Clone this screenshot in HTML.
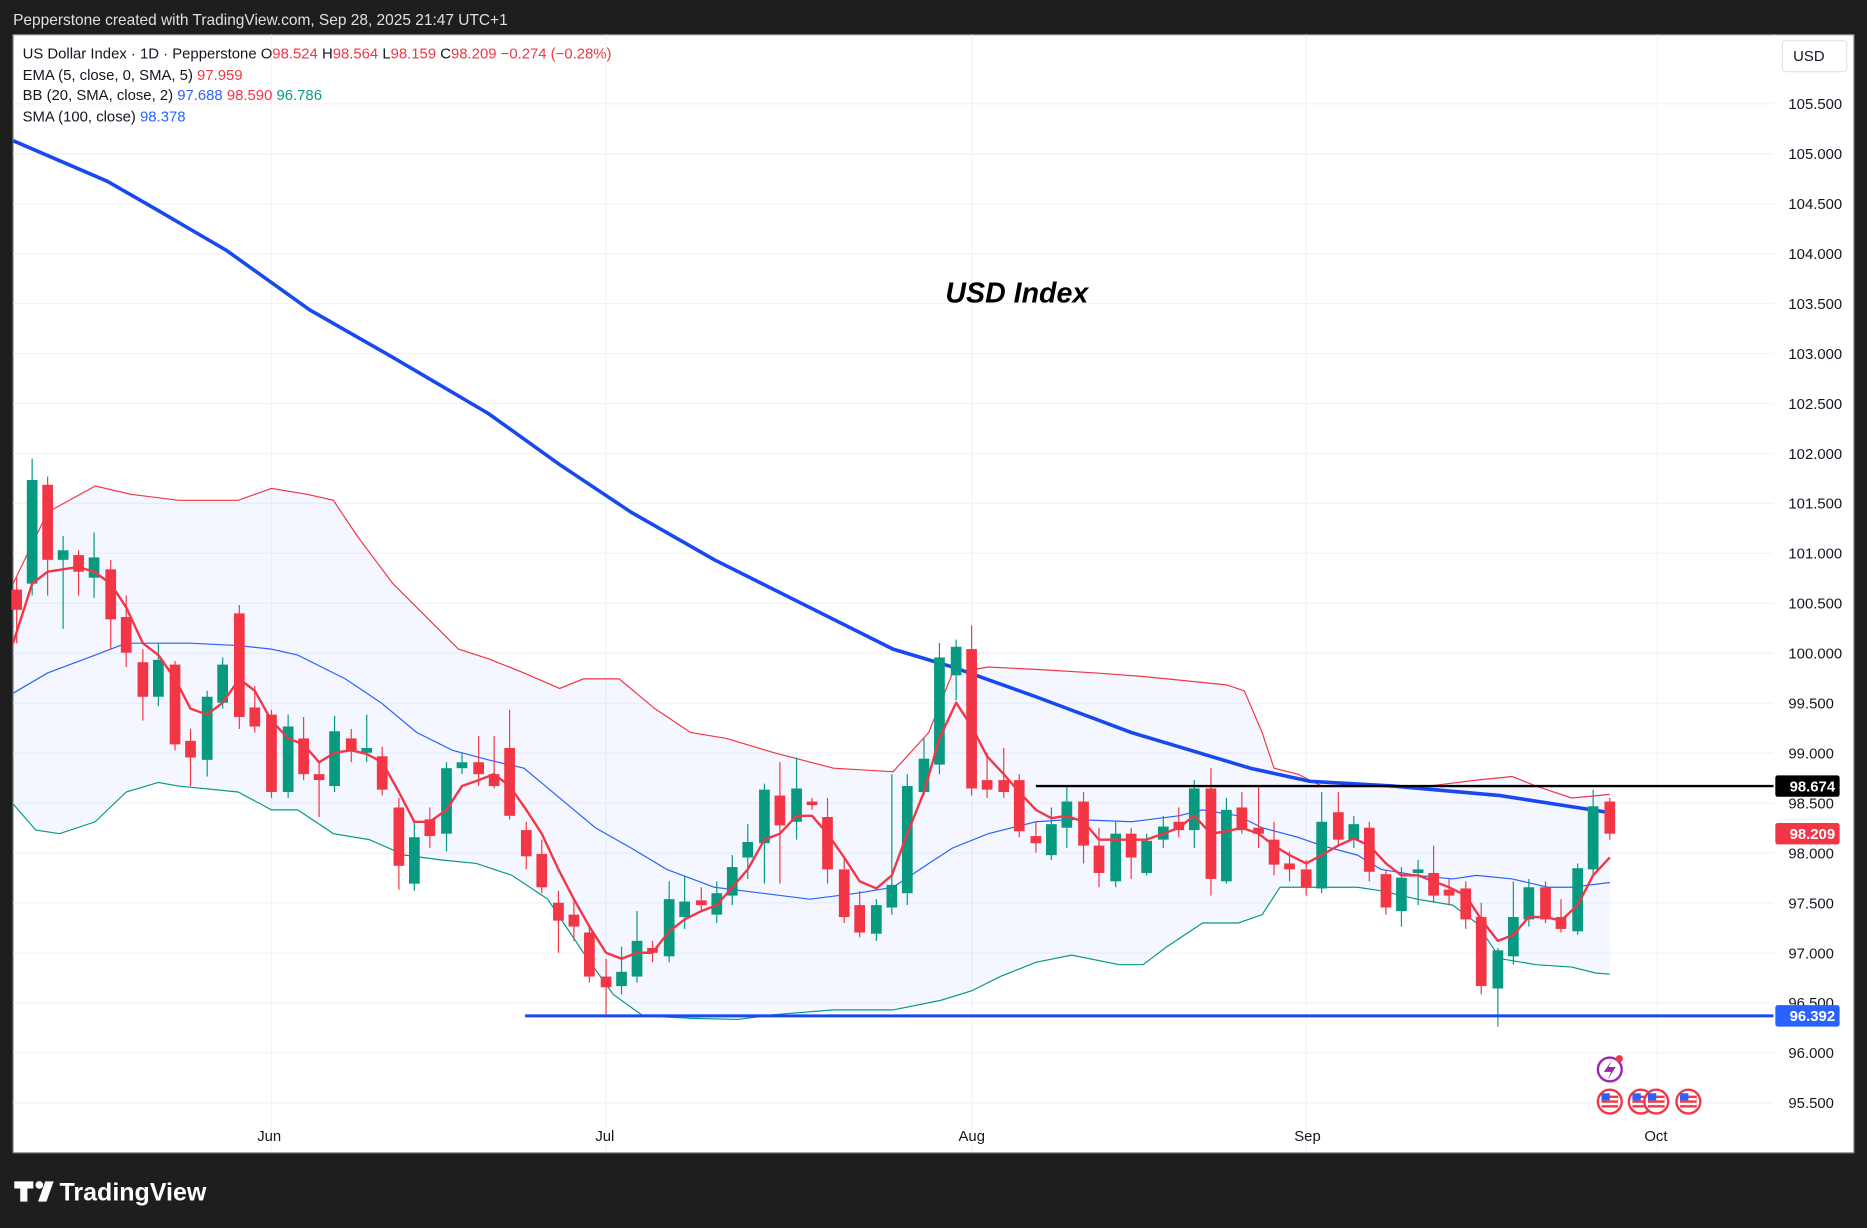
<!DOCTYPE html>
<html><head><meta charset="utf-8">
<style>
html,body{margin:0;padding:0;background:#1e1e1e;}
svg{display:block;}
text{font-family:"Liberation Sans","DejaVu Sans",sans-serif;}
</style></head>
<body>
<svg id="c" width="1867" height="1228" viewBox="0 0 1568 1031" xmlns="http://www.w3.org/2000/svg">
<rect x="0" y="0" width="1568" height="1031" fill="#1e1e1e"/>
<text x="11" y="21" font-size="13" fill="#e0e0e0">Pepperstone created with TradingView.com, Sep 28, 2025 21:47 UTC+1</text>
<rect x="11" y="29" width="1546" height="939" fill="#ffffff" stroke="#8a8a8a" stroke-width="1"/>
<g id="grid" stroke="#f0f3fa" stroke-width="1"></g>
<g id="ser"></g>
<line x1="1490" y1="29" x2="1490" y2="967" stroke="#ffffff"/>
<g id="axis" font-size="12.5" fill="#131722"></g>
<rect x="1497" y="34" width="54" height="26" rx="3" fill="#fff" stroke="#e0e3eb"/>
<text x="1506" y="51" font-size="12.5" fill="#131722">USD</text>
<g font-size="12.5" fill="#131722">
<text x="19" y="49">US Dollar Index · 1D · Pepperstone <tspan>O</tspan><tspan fill="#f23645">98.524</tspan> <tspan>H</tspan><tspan fill="#f23645">98.564</tspan> <tspan>L</tspan><tspan fill="#f23645">98.159</tspan> <tspan>C</tspan><tspan fill="#f23645">98.209 −0.274 (−0.28%)</tspan></text>
<text x="19" y="67">EMA (5, close, 0, SMA, 5) <tspan fill="#f23645">97.959</tspan></text>
<text x="19" y="84">BB (20, SMA, close, 2) <tspan fill="#2962ff">97.688</tspan> <tspan fill="#f23645">98.590</tspan> <tspan fill="#089981">96.786</tspan></text>
<text x="19" y="102">SMA (100, close) <tspan fill="#2962ff">98.378</tspan></text>
</g>
<text x="794" y="254" font-size="24" font-weight="bold" font-style="italic" fill="#000">USD Index</text>
<g font-size="12.5" fill="#131722">
<text x="216" y="958">Jun</text><text x="500" y="958">Jul</text><text x="805" y="958">Aug</text><text x="1087" y="958">Sep</text><text x="1381" y="958">Oct</text>
</g>
<!-- markers -->
<circle cx="1352" cy="898" r="10" fill="#fff" stroke="#9c27b0" stroke-width="2"/>
<path d="M1354 890 L1347 900 L1353 900 L1350 907 L1357 896 L1351 896 Z" fill="#9c27b0"/>
<circle cx="1360" cy="889" r="3" fill="#f23645"/>
<g id="flags"></g>
<!-- footer logo -->
<g fill="#ffffff">
<path d="M12 992 h16 v6 h-5 v11 h-6 v-11 h-5z"/>
<circle cx="33" cy="995" r="3.2"/>
<path d="M38 992 h7 l-6 17 h-7z"/>
<text x="50" y="1008" font-size="21" font-weight="bold" fill="#fff">TradingView</text>
</g>
<script>
(function(){
var NS="http://www.w3.org/2000/svg";
function el(p,t,a){var e=document.createElementNS(NS,t);for(var k in a)e.setAttribute(k,a[k]);p.appendChild(e);return e;}
var grid=document.getElementById('grid'),ax=document.getElementById('axis'),ser=document.getElementById('ser');
function Y(p){return 87+(105.5-p)*83.9;}
for(var p=95.5;p<=105.51;p+=0.5){var y=Y(p);el(grid,'line',{x1:11,x2:1490,y1:y,y2:y});var t=el(ax,'text',{x:1502,y:y+4.5});t.textContent=p.toFixed(3);}
[228,509,816,1097,1392].forEach(function(x){el(grid,'line',{x1:x,x2:x,y1:29,y2:967});});
function pts(a){return a.map(function(q){return q[0]+','+q[1]}).join(' ');}
var up=[[11,490],[40,430],[80,408],[110,415],[150,420],[200,420],[228,410],[258,415],[280,420],[300,450],[330,490],[360,520],[385,545],[410,553],[440,565],[470,578],[490,570],[520,570],[550,595],[580,615],[610,620],[650,632],[700,645],[750,648],[780,615],[800,565],[830,560],[870,562],[920,565],[960,568],[1000,572],[1030,575],[1045,580],[1060,615],[1070,645],[1090,650],[1110,660],[1140,660],[1170,660],[1200,660],[1240,655],[1270,652],[1290,660],[1320,670],[1352,667]];
var lo=[[11,675],[30,697],[50,700],[80,690],[106,665],[133,657],[150,660],[200,665],[228,680],[250,680],[280,700],[310,705],[340,718],[370,722],[400,725],[430,735],[460,755],[490,800],[515,835],[540,853],[580,855],[620,856],[650,852],[700,848],[750,848],[790,840],[816,832],[840,820],[870,808],[900,802],[940,810],[960,810],[980,795],[1010,775],[1040,775],[1060,768],[1075,745],[1100,745],[1140,745],[1160,748],[1190,755],[1220,760],[1240,775],[1260,805],[1290,810],[1320,812],[1340,817],[1352,818]];
var mid=[[11,582],[40,565],[80,550],[106,540],[133,540],[160,540],[200,542],[228,545],[250,550],[290,570],[320,590],[350,615],[380,630],[410,638],[440,645],[470,670],[500,695],[530,712],[560,730],[600,745],[640,750],[680,755],[720,750],[750,745],[780,725],[800,712],[830,700],[870,690],[900,688],[950,690],[990,685],[1010,680],[1040,685],[1060,695],[1090,703],[1110,710],[1140,718],[1160,730],[1190,735],[1220,738],[1240,735],[1270,738],[1300,745],[1320,745],[1352,741]];
el(ser,'polygon',{points:pts(up.concat(lo.slice().reverse())),fill:'#2962ff','fill-opacity':'0.05'});
el(ser,'polyline',{points:pts(up),fill:'none',stroke:'#f23645','stroke-width':1});
el(ser,'polyline',{points:pts(lo),fill:'none',stroke:'#089981','stroke-width':1});
el(ser,'polyline',{points:pts(mid),fill:'none',stroke:'#2962ff','stroke-width':1});
var sma=[[11,118],[90,152],[130,175],[190,210],[260,260],[330,300],[410,347],[470,390],[530,430],[600,470],[680,510],[750,545],[800,560],[870,585],[950,615],[1000,630],[1050,645],[1100,656],[1170,660],[1260,668],[1350,682]];
el(ser,'polyline',{points:pts(sma),fill:'none',stroke:'#1848f0','stroke-width':3,'stroke-linejoin':'round'});
var C=[[14,'r',495,512,485,540],[27,'g',490,403,385,500],[40,'r',407,470,400,500],[53,'g',470,462,450,528],[66,'r',466,480,462,500],[79,'g',485,468,447,502],[93,'r',478,520,470,545],[106,'r',518,548,500,560],[120,'r',556,585,545,605],[133,'g',585,554,540,593],[147,'r',558,625,555,630],[160,'r',622,636,612,660],[174,'g',638,585,580,652],[187,'g',590,558,552,595],[201,'r',515,602,508,612],[214,'r',594,610,576,615],[228,'r',600,665,596,670],[242,'g',665,610,600,670],[255,'r',620,650,602,655],[268,'r',650,655,640,686],[281,'g',660,614,601,665],[295,'r',620,630,612,640],[308,'g',632,628,600,640],[321,'r',635,663,627,668],[335,'r',678,727,670,747],[348,'g',742,703,690,748],[361,'r',688,702,678,712],[375,'g',700,645,640,715],[388,'g',645,640,632,650],[402,'r',640,650,618,660],[415,'r',650,660,618,662],[428,'r',628,685,596,688],[442,'r',697,719,690,730],[455,'r',717,745,705,750],[469,'r',758,773,748,800],[482,'r',768,778,755,790],[495,'r',783,820,778,825],[509,'r',820,829,805,852],[522,'g',828,816,795,835],[535,'g',820,790,765,825],[548,'r',796,800,790,808],[562,'g',803,755,740,808],[575,'g',770,757,735,780],[589,'r',756,760,745,765],[602,'g',768,750,740,775],[615,'g',752,728,718,760],[628,'g',720,707,692,738],[642,'g',708,663,658,742],[655,'r',668,693,640,742],[669,'g',690,662,636,705],[682,'r',673,676,670,680],[695,'r',686,730,670,742],[709,'r',730,770,720,775],[722,'r',760,783,748,787],[736,'g',784,760,755,790],[749,'g',762,743,650,768],[762,'g',750,660,650,760],[776,'g',665,637,620,668],[789,'g',642,552,540,650],[803,'g',567,543,537,588],[816,'r',545,662,525,668],[829,'r',655,663,632,670],[843,'r',655,665,628,670],[856,'r',655,698,650,703],[870,'r',702,708,690,716],[883,'g',718,692,678,722],[896,'g',695,673,660,712],[910,'r',673,710,665,725],[923,'r',710,733,695,745],[937,'g',740,700,690,745],[950,'r',700,720,695,738],[963,'g',733,706,700,735],[977,'g',705,694,685,712],[990,'r',690,697,678,703],[1003,'g',697,662,655,712],[1017,'r',662,738,645,752],[1030,'g',740,680,670,742],[1043,'r',678,697,665,700],[1057,'r',695,700,660,712],[1070,'r',705,726,690,735],[1083,'r',725,730,715,740],[1097,'r',730,745,722,752],[1110,'g',746,690,665,750],[1124,'r',682,705,665,710],[1137,'g',705,692,685,712],[1150,'r',695,732,690,740],[1164,'r',734,762,730,768],[1177,'g',765,737,728,778],[1191,'g',733,730,722,760],[1204,'r',733,752,710,758],[1217,'r',747,752,738,760],[1231,'r',746,772,740,780],[1244,'r',770,828,758,835],[1258,'g',830,798,796,862],[1271,'g',803,770,740,810],[1284,'g',772,745,738,778],[1298,'r',745,772,740,775],[1311,'r',770,780,755,783],[1325,'g',782,729,725,785],[1338,'g',730,677,663,735],[1352,'r',673,700,670,705]];
C.forEach(function(c){var col=c[1]=='g'?'#089981':'#f23645';var t=Math.min(c[2],c[3]),b=Math.max(c[2],c[3]);if(b-t<1.5)b=t+1.5;
el(ser,'line',{x1:c[0],x2:c[0],y1:c[4],y2:c[5],stroke:col,'stroke-width':1});
el(ser,'rect',{x:c[0]-4.5,y:t,width:9,height:b-t,fill:col});});
var ema=[[11,540],[27,490],[40,480],[53,478],[66,476],[79,480],[93,490],[106,510],[120,540],[133,550],[147,570],[160,595],[174,600],[187,590],[201,570],[214,580],[228,605],[242,620],[255,625],[268,640],[281,632],[295,630],[308,633],[321,640],[335,665],[348,690],[361,690],[375,680],[388,660],[402,655],[415,650],[428,660],[442,680],[455,700],[469,730],[482,755],[495,778],[509,800],[522,805],[535,800],[548,800],[562,782],[575,772],[589,765],[602,760],[615,745],[628,730],[642,705],[655,700],[669,685],[682,685],[695,700],[709,720],[722,740],[736,746],[749,735],[762,700],[776,665],[789,620],[803,590],[816,610],[829,635],[843,650],[856,665],[870,680],[883,687],[896,685],[910,690],[923,705],[937,705],[950,705],[963,705],[977,700],[990,695],[1003,685],[1017,700],[1030,698],[1043,695],[1057,700],[1070,710],[1083,718],[1097,725],[1110,718],[1124,710],[1137,704],[1150,710],[1164,725],[1177,735],[1191,735],[1204,740],[1217,745],[1231,752],[1244,772],[1258,790],[1271,785],[1284,770],[1298,770],[1311,773],[1325,760],[1338,735],[1352,720]];
el(ser,'polyline',{points:pts(ema),fill:'none',stroke:'#f23645','stroke-width':2,'stroke-linejoin':'round'});
el(ser,'line',{x1:870,x2:1490,y1:660,y2:660,stroke:'#000','stroke-width':2});
el(ser,'line',{x1:441,x2:1490,y1:853,y2:853,stroke:'#1848f0','stroke-width':2.5});
function lab(y,txt,bg){el(ax,'rect',{x:1491,y:y-9,width:54,height:18,rx:2,fill:bg});var t=el(ax,'text',{x:1503,y:y+4.5,fill:'#fff','font-weight':'bold'});t.textContent=txt;}
lab(660,'98.674','#000');lab(700,'98.209','#f23645');lab(853,'96.392','#2962ff');
var fl=document.getElementById('flags');
[1352,1378,1391,1418].forEach(function(x){el(fl,'circle',{cx:x,cy:925,r:10,fill:'#fff',stroke:'#f23645','stroke-width':2});
el(fl,'rect',{x:x-7,y:920,width:14,height:10,fill:'#f23645'});el(fl,'rect',{x:x-7,y:922,width:14,height:2,fill:'#fff'});el(fl,'rect',{x:x-7,y:926,width:14,height:2,fill:'#fff'});el(fl,'rect',{x:x-7,y:918,width:7,height:6,fill:'#2962ff'});});
})();
</script>
</svg>
</body></html>
